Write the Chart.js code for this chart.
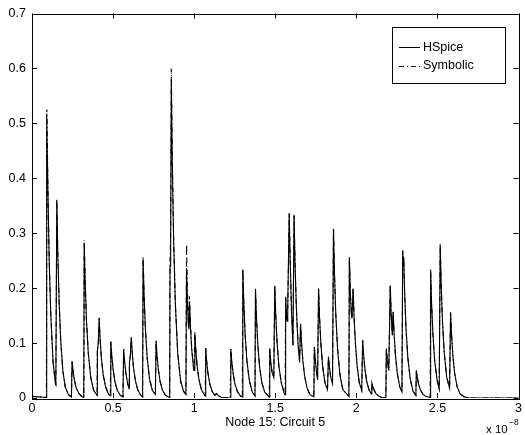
<!DOCTYPE html>
<html>
<head>
<meta charset="utf-8">
<script src="https://cdn.jsdelivr.net/npm/chart.js@4.4.0/dist/chart.umd.min.js"></script>
<style>
  body { margin: 0; background: #fff; }
</style>
</head>
<body>
<canvas id="spice" width="525" height="435"></canvas>
<script>
// x in units of 1e-8 s, y in volts
const hspice = [
  [0,0.003],[0.04,0.002],[0.088,0.001],
  [0.089,0.001],[0.092,0.518],[0.098,0.38],[0.106,0.25],[0.116,0.15],[0.13,0.065],[0.145,0.025],
  [0.147,0.024],[0.153,0.36],[0.159,0.265],[0.167,0.178],[0.177,0.105],[0.19,0.05],[0.205,0.02],[0.225,0.006],[0.243,0.002],
  [0.244,0.002],[0.247,0.067],[0.253,0.05],[0.261,0.033],[0.272,0.019],[0.287,0.009],[0.305,0.003],[0.319,0.001],
  [0.32,0.001],[0.322,0.283],[0.328,0.21],[0.336,0.14],[0.347,0.082],[0.362,0.038],[0.38,0.014],[0.401,0.005],
  [0.403,0.085],[0.409,0.1],[0.414,0.145],[0.42,0.108],[0.428,0.072],[0.439,0.042],[0.454,0.02],[0.472,0.007],[0.483,0.004],
  [0.486,0.103],[0.492,0.077],[0.5,0.052],[0.511,0.03],[0.526,0.014],[0.544,0.005],[0.561,0.002],
  [0.565,0.089],[0.571,0.066],[0.579,0.045],[0.59,0.026],[0.599,0.017],
  [0.601,0.065],[0.606,0.075],[0.612,0.111],[0.618,0.083],[0.626,0.055],[0.637,0.032],[0.652,0.015],[0.67,0.005],[0.682,0.002],
  [0.685,0.254],[0.691,0.188],[0.699,0.127],[0.71,0.074],[0.725,0.034],[0.743,0.013],[0.761,0.007],
  [0.765,0.104],[0.771,0.077],[0.779,0.052],[0.79,0.03],[0.805,0.014],[0.823,0.005],[0.849,0.001],
  [0.851,0.24],[0.855,0.29],[0.859,0.58],[0.865,0.43],[0.873,0.29],[0.884,0.17],[0.899,0.079],[0.917,0.03],[0.935,0.012],[0.949,0.007],
  [0.953,0.236],[0.958,0.18],[0.964,0.135],[0.968,0.125],[0.971,0.175],[0.977,0.13],[0.985,0.088],[0.996,0.055],[0.999,0.05],
  [1.004,0.118],[1.01,0.087],[1.018,0.059],[1.029,0.034],[1.044,0.016],[1.062,0.006],[1.068,0.004],
  [1.071,0.091],[1.077,0.067],[1.085,0.045],[1.096,0.026],[1.111,0.012],[1.128,0.005],[1.138,0.008],[1.15,0.004],[1.17,0.001],[1.222,0],
  [1.226,0.089],[1.232,0.066],[1.24,0.045],[1.251,0.026],[1.266,0.012],[1.284,0.004],[1.297,0.002],
  [1.3,0.234],[1.306,0.173],[1.314,0.117],[1.325,0.068],[1.34,0.032],[1.358,0.011],[1.375,0.004],
  [1.378,0.198],[1.384,0.147],[1.392,0.099],[1.403,0.057],[1.418,0.027],[1.436,0.01],[1.463,0.002],
  [1.466,0.09],[1.472,0.067],[1.48,0.047],[1.491,0.037],
  [1.497,0.204],[1.503,0.151],[1.511,0.102],[1.522,0.059],[1.537,0.028],[1.555,0.009],[1.561,0.006],
  [1.564,0.183],[1.568,0.155],[1.573,0.14],[1.577,0.165],[1.586,0.335],[1.592,0.25],[1.6,0.16],[1.609,0.096],
  [1.616,0.332],[1.622,0.245],[1.63,0.165],[1.64,0.1],[1.65,0.065],
  [1.656,0.135],[1.662,0.1],[1.67,0.068],[1.681,0.04],[1.696,0.018],[1.714,0.006],[1.738,0.002],
  [1.741,0.093],[1.747,0.069],[1.755,0.046],[1.761,0.033],
  [1.767,0.199],[1.773,0.147],[1.781,0.1],[1.792,0.058],[1.807,0.027],[1.822,0.015],
  [1.828,0.075],[1.834,0.056],[1.842,0.038],[1.853,0.026],
  [1.859,0.308],[1.865,0.228],[1.873,0.154],[1.884,0.09],[1.899,0.042],[1.917,0.015],[1.954,0.003],
  [1.957,0.256],[1.963,0.19],[1.97,0.15],[1.973,0.145],
  [1.98,0.199],[1.986,0.147],[1.994,0.1],[2.005,0.058],[2.018,0.028],[2.033,0.014],
  [2.039,0.105],[2.045,0.078],[2.053,0.052],[2.064,0.03],[2.079,0.014],[2.092,0.008],
  [2.096,0.027],[2.102,0.02],[2.11,0.014],[2.121,0.008],[2.136,0.004],[2.155,0.001],[2.182,0],
  [2.185,0.09],[2.191,0.067],[2.2,0.05],
  [2.209,0.205],[2.215,0.15],[2.222,0.114],
  [2.227,0.157],[2.233,0.116],[2.241,0.078],[2.252,0.046],[2.267,0.021],[2.281,0.011],
  [2.286,0.268],[2.289,0.24],[2.292,0.256],[2.298,0.19],[2.306,0.128],[2.317,0.075],[2.332,0.035],[2.35,0.012],[2.367,0.005],
  [2.37,0.05],[2.376,0.037],[2.384,0.025],[2.395,0.015],[2.41,0.007],[2.428,0.003],[2.455,0.001],
  [2.458,0.233],[2.464,0.172],[2.472,0.117],[2.483,0.068],[2.498,0.032],[2.511,0.017],
  [2.517,0.279],[2.523,0.207],[2.531,0.14],[2.542,0.082],[2.557,0.038],[2.575,0.018],
  [2.581,0.155],[2.587,0.115],[2.595,0.078],[2.606,0.045],[2.621,0.021],[2.639,0.008],[2.665,0.002],[2.7,0],[3,0]
];

const symbolic = [
  [0,0.003],[0.04,0.002],[0.088,0.001],
  [0.089,0.001],[0.092,0.525],[0.098,0.385],[0.106,0.252],[0.116,0.151],[0.13,0.066],[0.145,0.025],
  [0.147,0.024],[0.153,0.362],[0.159,0.266],[0.167,0.178],[0.177,0.105],[0.19,0.05],[0.205,0.02],[0.225,0.006],[0.243,0.002],
  [0.244,0.002],[0.247,0.067],[0.253,0.05],[0.261,0.033],[0.272,0.019],[0.287,0.009],[0.305,0.003],[0.319,0.001],
  [0.32,0.001],[0.322,0.287],[0.328,0.212],[0.336,0.141],[0.347,0.082],[0.362,0.038],[0.38,0.014],[0.401,0.005],
  [0.403,0.085],[0.409,0.1],[0.414,0.146],[0.42,0.108],[0.428,0.072],[0.439,0.042],[0.454,0.02],[0.472,0.007],[0.483,0.004],
  [0.486,0.103],[0.492,0.077],[0.5,0.052],[0.511,0.03],[0.526,0.014],[0.544,0.005],[0.561,0.002],
  [0.565,0.089],[0.571,0.066],[0.579,0.045],[0.59,0.026],[0.599,0.017],
  [0.601,0.065],[0.606,0.075],[0.612,0.111],[0.618,0.083],[0.626,0.055],[0.637,0.032],[0.652,0.015],[0.67,0.005],[0.682,0.002],
  [0.685,0.256],[0.691,0.189],[0.699,0.127],[0.71,0.074],[0.725,0.034],[0.743,0.013],[0.761,0.007],
  [0.765,0.104],[0.771,0.077],[0.779,0.052],[0.79,0.03],[0.805,0.014],[0.823,0.005],[0.849,0.001],
  [0.851,0.245],[0.855,0.3],[0.859,0.6],[0.865,0.44],[0.873,0.295],[0.884,0.172],[0.899,0.08],[0.917,0.03],[0.935,0.012],[0.949,0.007],
  [0.953,0.28],[0.958,0.2],[0.964,0.14],[0.968,0.13],[0.971,0.185],[0.977,0.135],[0.985,0.09],[0.996,0.055],[0.999,0.05],
  [1.004,0.12],[1.01,0.088],[1.018,0.059],[1.029,0.034],[1.044,0.016],[1.062,0.006],[1.068,0.004],
  [1.071,0.091],[1.077,0.067],[1.085,0.045],[1.096,0.026],[1.111,0.012],[1.128,0.005],[1.138,0.008],[1.15,0.004],[1.17,0.001],[1.222,0],
  [1.226,0.089],[1.232,0.066],[1.24,0.045],[1.251,0.026],[1.266,0.012],[1.284,0.004],[1.297,0.002],
  [1.3,0.235],[1.306,0.173],[1.314,0.117],[1.325,0.068],[1.34,0.032],[1.358,0.011],[1.375,0.004],
  [1.378,0.199],[1.384,0.147],[1.392,0.099],[1.403,0.057],[1.418,0.027],[1.436,0.01],[1.463,0.002],
  [1.466,0.09],[1.472,0.067],[1.48,0.047],[1.491,0.037],
  [1.497,0.205],[1.503,0.151],[1.511,0.102],[1.522,0.059],[1.537,0.028],[1.555,0.009],[1.561,0.006],
  [1.564,0.185],[1.568,0.155],[1.573,0.14],[1.577,0.165],[1.586,0.337],[1.592,0.25],[1.6,0.16],[1.609,0.096],
  [1.616,0.334],[1.622,0.245],[1.63,0.165],[1.64,0.1],[1.65,0.065],
  [1.656,0.135],[1.662,0.1],[1.67,0.068],[1.681,0.04],[1.696,0.018],[1.714,0.006],[1.738,0.002],
  [1.741,0.093],[1.747,0.069],[1.755,0.046],[1.761,0.033],
  [1.767,0.2],[1.773,0.147],[1.781,0.1],[1.792,0.058],[1.807,0.027],[1.822,0.015],
  [1.828,0.075],[1.834,0.056],[1.842,0.038],[1.853,0.026],
  [1.859,0.309],[1.865,0.228],[1.873,0.154],[1.884,0.09],[1.899,0.042],[1.917,0.015],[1.954,0.003],
  [1.957,0.257],[1.963,0.19],[1.97,0.15],[1.973,0.145],
  [1.98,0.2],[1.986,0.147],[1.994,0.1],[2.005,0.058],[2.018,0.028],[2.033,0.014],
  [2.039,0.105],[2.045,0.078],[2.053,0.052],[2.064,0.03],[2.079,0.014],[2.092,0.008],
  [2.096,0.027],[2.102,0.02],[2.11,0.014],[2.121,0.008],[2.136,0.004],[2.155,0.001],[2.182,0],
  [2.185,0.09],[2.191,0.067],[2.2,0.05],
  [2.209,0.206],[2.215,0.15],[2.222,0.114],
  [2.227,0.158],[2.233,0.116],[2.241,0.078],[2.252,0.046],[2.267,0.021],[2.281,0.011],
  [2.286,0.27],[2.289,0.24],[2.292,0.257],[2.298,0.19],[2.306,0.128],[2.317,0.075],[2.332,0.035],[2.35,0.012],[2.367,0.005],
  [2.37,0.05],[2.376,0.037],[2.384,0.025],[2.395,0.015],[2.41,0.007],[2.428,0.003],[2.455,0.001],
  [2.458,0.234],[2.464,0.172],[2.472,0.117],[2.483,0.068],[2.498,0.032],[2.511,0.017],
  [2.517,0.28],[2.523,0.207],[2.531,0.14],[2.542,0.082],[2.557,0.038],[2.575,0.018],
  [2.581,0.156],[2.587,0.115],[2.595,0.078],[2.606,0.045],[2.621,0.021],[2.639,0.008],[2.665,0.002],[2.7,0],[3,0]
];

const xTickLabels = ['0', '0.5', '1', '1.5', '2', '2.5', '3'];
const yTickLabels = ['0', '0.1', '0.2', '0.3', '0.4', '0.5', '0.6', '0.7'];
const seriesNames = ['HSpice', 'Symbolic'];

const FONT = "'Liberation Sans', Arial, Helvetica, sans-serif";

// matlab style box, inward ticks, legend and exponent label
const matlabAxes = {
    id: 'matlabAxes',
    afterDraw(chart) {
        const ctx = chart.ctx;
        const a = chart.chartArea;
        const xs = chart.scales.x;
        const ys = chart.scales.y;
        const tl = 5;
        ctx.save();
        ctx.strokeStyle = '#000';
        ctx.lineWidth = 1;
        ctx.setLineDash([]);
        ctx.beginPath();
        xs.ticks.forEach(t => {
            const px = Math.round(xs.getPixelForValue(t.value)) + 0.5;
            ctx.moveTo(px, a.bottom); ctx.lineTo(px, a.bottom - tl);
            ctx.moveTo(px, a.top); ctx.lineTo(px, a.top + tl);
        });
        ys.ticks.forEach(t => {
            const py = Math.round(ys.getPixelForValue(t.value)) + 0.5;
            ctx.moveTo(a.left, py); ctx.lineTo(a.left + tl, py);
            ctx.moveTo(a.right, py); ctx.lineTo(a.right - tl, py);
        });
        ctx.stroke();
        ctx.strokeRect(Math.round(a.left) + 0.5, Math.round(a.top) + 0.5,
            Math.round(a.right - a.left), Math.round(a.bottom - a.top));

        // legend box
        const lx = 392, ly = 27, lw = 113, lh = 56;
        ctx.fillStyle = '#fff';
        ctx.fillRect(lx, ly, lw, lh);
        ctx.strokeRect(lx + 0.5, ly + 0.5, lw, lh);
        ctx.font = '12.5px ' + FONT;
        ctx.textBaseline = 'middle';
        ctx.textAlign = 'left';
        chart.data.datasets.forEach((ds, i) => {
            const y = ly + 20 + i * 18.5;
            ctx.beginPath();
            ctx.setLineDash(ds.borderDash || []);
            ctx.moveTo(399, Math.round(y) + 0.5);
            ctx.lineTo(420, Math.round(y) + 0.5);
            ctx.stroke();
            ctx.setLineDash([]);
            ctx.fillStyle = '#000';
            ctx.fillText(ds.label, 423, y + 0.5);
        });

        // exponent
        ctx.font = '11.5px ' + FONT;
        ctx.textBaseline = 'alphabetic';
        ctx.fillText('x 10', 486, 433);
        ctx.font = '8.5px ' + FONT;
        ctx.fillText('\u22128', 509, 425);
        ctx.restore();
    }
};

new Chart(document.getElementById('spice'), {
    type: 'line',
    data: {
        datasets: [{
            label: seriesNames[0],
            data: hspice.map(p => ({ x: p[0], y: p[1] })),
            borderColor: '#000',
            borderWidth: 1.1,
            pointRadius: 0,
            tension: 0,
            fill: false
        }, {
            label: seriesNames[1],
            data: symbolic.map(p => ({ x: p[0], y: p[1] })),
            borderColor: '#000',
            borderWidth: 1.1,
            borderDash: [5, 3, 1, 3],
            pointRadius: 0,
            tension: 0,
            fill: false
        }]
    },
    options: {
        responsive: false,
        animation: false,
        layout: { padding: { top: 12, right: 1, left: 0, bottom: 0 } },
        plugins: {
            legend: { display: false },
            tooltip: { enabled: false }
        },
        scales: {
            x: {
                type: 'linear',
                min: 0,
                max: 3,
                ticks: {
                    stepSize: 0.5,
                    padding: 3,
                    color: '#000',
                    font: { family: FONT, size: 12.5 },
                    maxRotation: 0,
                    callback: (v, i) => xTickLabels[i]
                },
                grid: { display: false, drawTicks: false },
                border: { display: false },
                title: {
                    display: true,
                    text: 'Node 15: Circuit 5',
                    color: '#000',
                    font: { family: FONT, size: 12.5 },
                    padding: { top: 0, bottom: 5 }
                },
                afterFit: s => { s.height = 37; }
            },
            y: {
                min: 0,
                max: 0.7,
                ticks: {
                    stepSize: 0.1,
                    padding: 6,
                    color: '#000',
                    font: { family: FONT, size: 12.5 },
                    callback: (v, i) => yTickLabels[i]
                },
                grid: { display: false, drawTicks: false },
                border: { display: false },
                afterFit: s => { s.width = 32; }
            }
        }
    },
    plugins: [matlabAxes]
});
</script>
</body>
</html>
